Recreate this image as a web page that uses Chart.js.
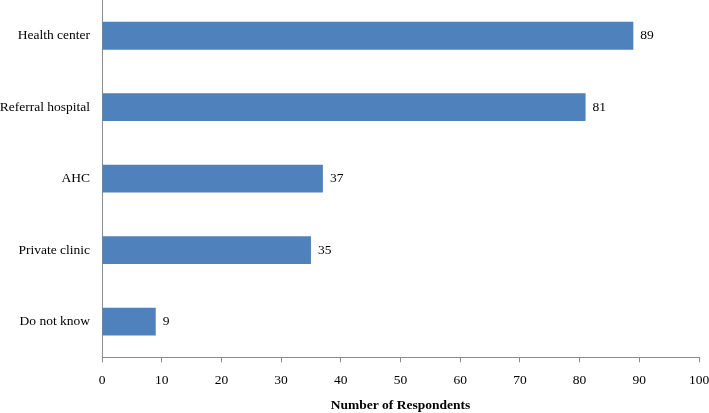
<!DOCTYPE html>
<html><head><meta charset="utf-8">
<script src="https://cdn.jsdelivr.net/npm/chart.js@4/dist/chart.umd.min.js"></script>
<style>html,body{margin:0;padding:0;background:#fff;}canvas{display:block;}</style>
</head><body>
<canvas id="c" width="709" height="413"></canvas>
<script>
const categories = ["Health center", "Referral hospital", "AHC", "Private clinic", "Do not know"];
const respondents = [89, 81, 37, 35, 9];
const xTicks = [0, 10, 20, 30, 40, 50, 60, 70, 80, 90, 100];
const xTitle = "Number of Respondents";

const FONT = "'Liberation Serif', 'Times New Roman', serif";
const AXIS = '#8c8c8c';

const valueLabels = {
  id: 'valueLabels',
  afterDatasetsDraw(chart) {
    const ctx = chart.ctx;
    const meta = chart.getDatasetMeta(0);
    ctx.save();
    ctx.font = "13.5px " + FONT;
    ctx.fillStyle = '#000';
    ctx.textAlign = 'left';
    ctx.textBaseline = 'middle';
    meta.data.forEach((bar, i) => {
      ctx.fillText(String(respondents[i]), bar.x + 7, bar.y);
    });
    ctx.restore();
  }
};

new Chart(document.getElementById('c'), {
  type: 'bar',
  data: {
    labels: categories,
    datasets: [{
      data: respondents,
      backgroundColor: '#4f81bd',
      borderWidth: 0,
      categoryPercentage: 1.0,
      barPercentage: 0.39
    }]
  },
  options: {
    indexAxis: 'y',
    responsive: false,
    animation: false,
    layout: { padding: { top: 0, right: 10, bottom: 0, left: 0 } },
    plugins: { legend: { display: false }, tooltip: { enabled: false } },
    scales: {
      x: {
        min: 0, max: 100,
        afterBuildTicks(s) { s.ticks = xTicks.map(v => ({ value: v })); },
        afterFit(s) { s.paddingRight = 0; s.paddingLeft = 0; },
        grid: { display: true, drawOnChartArea: false, drawTicks: true, tickLength: 5, color: AXIS },
        border: { display: true, color: AXIS, width: 1 },
        ticks: { font: { family: FONT, size: 13.5 }, color: '#000', padding: 10, maxRotation: 0 },
        title: { display: true, text: xTitle, font: { family: FONT, size: 13.5, weight: 'bold', lineHeight: 1 }, color: '#000', padding: { top: 0, bottom: 1 } }
      },
      y: {
        afterFit(s) { s.width = 102; s.paddingTop = 0; s.paddingBottom = 0; },
        grid: { display: false, drawTicks: false },
        border: { display: true, color: AXIS, width: 1 },
        ticks: { font: { family: FONT, size: 13.5 }, color: '#000', padding: 12 }
      }
    }
  },
  plugins: [valueLabels]
});
</script>
</body></html>
